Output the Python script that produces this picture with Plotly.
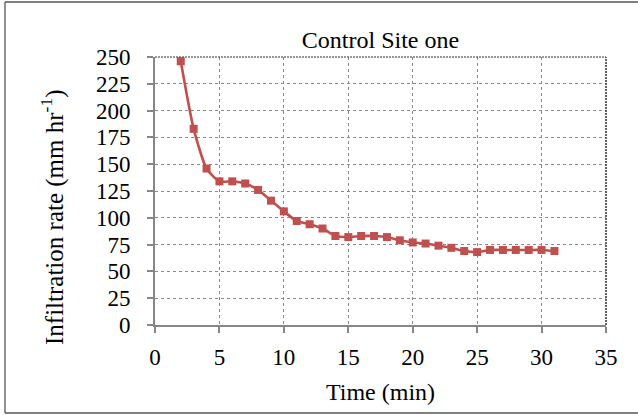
import plotly.graph_objects as go

time_min = list(range(2, 32))
infiltration = [246, 183, 146, 134, 134, 132, 126, 116, 106, 97, 94, 90, 83, 82, 83,
                83, 82, 79, 77, 76, 74, 72, 69, 68, 70, 70, 70, 70, 70, 69]
x_ticks = [0, 5, 10, 15, 20, 25, 30, 35]
y_ticks = [0, 25, 50, 75, 100, 125, 150, 175, 200, 225, 250]

FONT = "Liberation Serif"
L, R, T, B = 155, 32, 57, 90
W, H = 638, 415
pw, ph = W - L - R, H - T - B

def px(x):
    return (x - L) / pw

def py(y):
    return (H - B - y) / ph

fig = go.Figure()
fig.add_trace(go.Scatter(
    x=time_min, y=infiltration, mode="lines+markers",
    line=dict(color="#C0504D", width=2.6, shape="spline", smoothing=0.6),
    marker=dict(symbol="square", size=8, color="#C0504D"),
    showlegend=False,
))

axis_common = dict(
    showline=True, linecolor="#868686", linewidth=1.6,
    ticks="outside", ticklen=6, tickcolor="#868686", tickwidth=1.6,
    showgrid=True, gridcolor="#8a8a8a", griddash="dot", gridwidth=1.2,
    zeroline=False, tickfont=dict(family=FONT, size=23, color="#000"),
)

fig.update_xaxes(range=[0, 35], tickvals=x_ticks, ticklabelstandoff=5, **axis_common,
                 title=dict(text="Time (min)", font=dict(family=FONT, size=24, color="#000"), standoff=14))
fig.update_yaxes(range=[0, 250], tickvals=y_ticks, ticklabelstandoff=12, **axis_common)

frame = dict(color="#555", width=1.3)
shapes = [
    # outer frame (left, top, bottom; right edge is outside the picture)
    dict(type="line", xref="paper", yref="paper", x0=px(5), x1=px(5), y0=py(2), y1=py(413), line=frame),
    dict(type="line", xref="paper", yref="paper", x0=px(5), x1=px(650), y0=py(2), y1=py(2), line=frame),
    dict(type="line", xref="paper", yref="paper", x0=px(5), x1=px(650), y0=py(413), y1=py(413), line=frame),
    # top and right plot edges (darker dotted)
    dict(type="line", xref="paper", yref="paper", x0=0, x1=1, y0=1, y1=1,
         line=dict(color="#333", width=1.2, dash="2px,1px")),
    dict(type="line", xref="paper", yref="paper", x0=1, x1=1, y0=0, y1=1,
         line=dict(color="#222", width=1.4, dash="2px,1px")),
]

annotations = [
    dict(text="Infiltration rate (mm hr<sup>-1</sup>)", textangle=-90,
         xref="paper", yref="paper", x=px(52), y=py(218),
         xanchor="center", yanchor="middle", showarrow=False,
         font=dict(family=FONT, size=25, color="#000")),
]

fig.update_layout(
    width=W, height=H,
    margin=dict(l=L, r=R, t=T, b=B),
    paper_bgcolor="white", plot_bgcolor="white",
    title=dict(text="Control Site one", x=0.5 * (2 * L + pw) / W, xanchor="center",
               y=1 - 40 / H, yanchor="middle",
               font=dict(family=FONT, size=24, color="#000")),
    shapes=shapes,
    annotations=annotations,
)

fig.write_html("out.html", config={"displayModeBar": False},
               post_script="document.body.style.margin='0';document.body.style.overflow='hidden';")
